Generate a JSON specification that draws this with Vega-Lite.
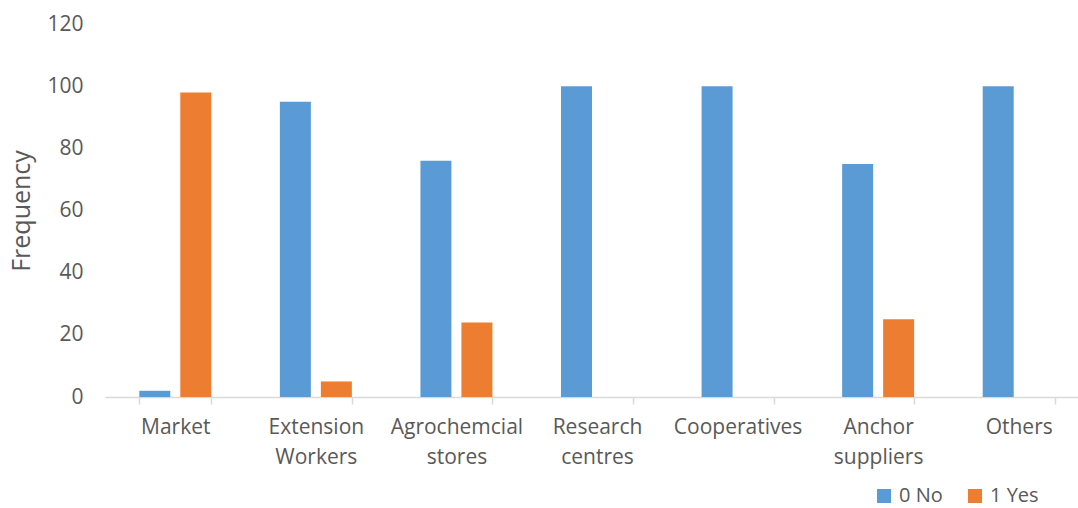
{
  "$schema": "https://vega.github.io/schema/vega-lite/v6.json",
  "autosize": {"type": "none"},
  "padding": {"left": 105, "right": -11, "top": 24, "bottom": 111},
  "width": 984,
  "height": 373,
  "background": "white",
  "data": {
    "values": [
      {"category": "Market", "response": "0 No", "frequency": 2},
      {"category": "Market", "response": "1 Yes", "frequency": 98},
      {"category": "Extension Workers", "response": "0 No", "frequency": 95},
      {"category": "Extension Workers", "response": "1 Yes", "frequency": 5},
      {"category": "Agrochemcial stores", "response": "0 No", "frequency": 76},
      {"category": "Agrochemcial stores", "response": "1 Yes", "frequency": 24},
      {"category": "Research centres", "response": "0 No", "frequency": 100},
      {"category": "Research centres", "response": "1 Yes", "frequency": 0},
      {"category": "Cooperatives", "response": "0 No", "frequency": 100},
      {"category": "Cooperatives", "response": "1 Yes", "frequency": 0},
      {"category": "Anchor suppliers", "response": "0 No", "frequency": 75},
      {"category": "Anchor suppliers", "response": "1 Yes", "frequency": 25},
      {"category": "Others", "response": "0 No", "frequency": 100},
      {"category": "Others", "response": "1 Yes", "frequency": 0}
    ]
  },
  "config": {
    "view": {"stroke": null},
    "font": "Open Sans"
  },
  "mark": {"type": "bar"},
  "encoding": {
    "x": {
      "field": "category",
      "type": "nominal",
      "sort": null,
      "scale": {"paddingInner": 0.488, "paddingOuter": 0.244},
      "axis": {
        "title": null,
        "labelAngle": 0,
        "labelExpr": "split(datum.label, ' ')",
        "labelFont": "Open Sans",
        "labelFontSize": 21,
        "labelColor": "#595959",
        "labelLineHeight": 30,
        "labelPadding": 12,
        "domainColor": "#D9D9D9",
        "domainWidth": 1.5,
        "tickColor": "#D9D9D9",
        "tickWidth": 1.5,
        "tickSize": 7,
        "tickBand": "extent",
        "labelBaseline": "top"
      }
    },
    "xOffset": {
      "field": "response",
      "type": "nominal",
      "scale": {"paddingInner": 0.244, "paddingOuter": 0}
    },
    "y": {
      "field": "frequency",
      "type": "quantitative",
      "scale": {"domain": [0, 120], "nice": false},
      "axis": {
        "title": "Frequency",
        "titleFont": "Open Sans",
        "titleFontSize": 25,
        "titleFontWeight": "normal",
        "titleColor": "#595959",
        "titlePadding": 12,
        "values": [0, 20, 40, 60, 80, 100, 120],
        "grid": false,
        "domain": false,
        "ticks": false,
        "labelPadding": 22,
        "labelFont": "Open Sans",
        "labelFontSize": 21,
        "labelColor": "#595959"
      }
    },
    "color": {
      "field": "response",
      "type": "nominal",
      "scale": {"domain": ["0 No", "1 Yes"], "range": ["#5B9BD5", "#ED7D31"]},
      "legend": {
        "title": null,
        "orient": "none",
        "direction": "horizontal",
        "legendX": 769,
        "legendY": 462,
        "symbolType": "square",
        "symbolSize": 196,
        "symbolStrokeWidth": 0,
        "symbolOpacity": 1,
        "labelFont": "Open Sans",
        "labelFontSize": 20,
        "labelColor": "#595959",
        "labelOffset": 5,
        "columnPadding": 22
      }
    }
  }
}
